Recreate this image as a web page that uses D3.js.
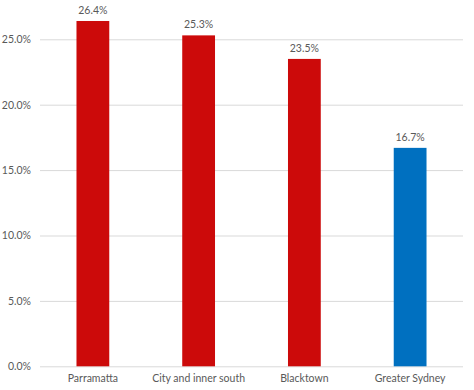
<!DOCTYPE html>
<html><head><meta charset="utf-8">
<script src="https://cdn.jsdelivr.net/npm/d3@7"></script>
<style>body{margin:0;background:#fff}svg{display:block}text{font-family:Lato,"Open Sans",sans-serif;fill:#595959}</style>
</head><body>
<script>
const categories = ["Parramatta","City and inner south","Blacktown","Greater Sydney"];
const values = [26.4, 25.3, 23.5, 16.7];
const colors = ["#CC0A0A","#CC0A0A","#CC0A0A","#0070C0"];
const ticks = [0,5,10,15,20,25];

const W=474,H=390;
const svg=d3.select("body").append("svg").attr("width",W).attr("height",H);
const x=d3.scaleBand().domain(categories).range([40,463]).paddingInner(0.69).paddingOuter(0.345);
const y=d3.scaleLinear().domain([0,25]).range([366.3,39.3]);

const yAxis=d3.axisLeft(y).tickValues(ticks).tickFormat(d=>d.toFixed(1)+"%").tickSize(-(463-40)).tickPadding(9);
const gy=svg.append("g").attr("transform","translate(40,0)").call(yAxis);
gy.select(".domain").remove();
gy.selectAll(".tick line").attr("stroke","#d9d9d9").attr("stroke-width",1);
gy.selectAll(".tick text").attr("font-size",10.5).attr("fill","#595959");

const xAxis=d3.axisBottom(x).tickSize(0).tickPadding(8);
const gx=svg.append("g").attr("transform","translate(0,366.3)").call(xAxis);
gx.select(".domain").remove();
gx.selectAll(".tick text").attr("font-size",10.5).attr("fill","#595959");

svg.selectAll("rect.bar").data(values).enter().append("rect")
 .attr("x",(d,i)=>x(categories[i])).attr("width",x.bandwidth())
 .attr("y",d=>y(d)).attr("height",d=>y(0)-y(d)).attr("fill",(d,i)=>colors[i]);

svg.selectAll("text.lbl").data(values).enter().append("text")
 .attr("x",(d,i)=>x(categories[i])+x.bandwidth()/2).attr("y",d=>y(d)-7)
 .attr("text-anchor","middle").attr("font-size",10.5).text(d=>d.toFixed(1)+"%");
</script>
</body></html>
